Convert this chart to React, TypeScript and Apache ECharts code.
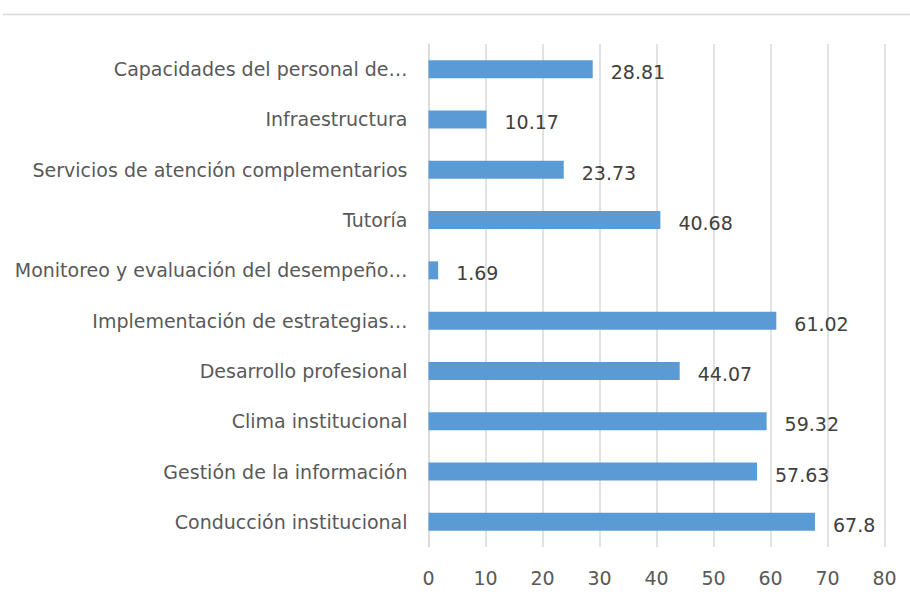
import React, { useEffect, useRef } from "react";
import * as echarts from "echarts";

const categories = [
  "Conducción institucional",
  "Gestión de la información",
  "Clima institucional",
  "Desarrollo profesional",
  "Implementación de estrategias…",
  "Monitoreo y evaluación del desempeño…",
  "Tutoría",
  "Servicios de atención complementarios",
  "Infraestructura",
  "Capacidades del personal de…",
];
const values = [67.8, 57.63, 59.32, 44.07, 61.02, 1.69, 40.68, 23.73, 10.17, 28.81];
const xTicks = { min: 0, max: 80, interval: 10 };

export default function App() {
  const ref = useRef<HTMLDivElement>(null);
  useEffect(() => {
    if (!ref.current) return;
    const chart = echarts.init(ref.current, undefined, { renderer: "svg" });
    const font = "'DejaVu Sans', sans-serif";
    chart.setOption({
      animation: false,
      backgroundColor: "#ffffff",
      graphic: [
        {
          type: "line",
          shape: { x1: 3, y1: 14.5, x2: 910, y2: 14.5 },
          style: { stroke: "#d9d9d9", lineWidth: 1.5 },
        },
      ],
      grid: { left: 428.5, right: 25.5, top: 44, bottom: 54 },
      xAxis: {
        type: "value",
        min: xTicks.min,
        max: xTicks.max,
        interval: xTicks.interval,
        axisLine: { show: false },
        axisTick: { show: false },
        splitLine: { show: true, lineStyle: { color: "#d9d9d9", width: 1.5 } },
        axisLabel: { color: "#595959", fontSize: 19, fontFamily: font, margin: 21 },
      },
      yAxis: {
        type: "category",
        data: categories,
        axisLine: { show: true, lineStyle: { color: "#d9d9d9", width: 1.5 } },
        axisTick: { show: false },
        axisLabel: { color: "#595959", fontSize: 19, fontFamily: font, margin: 21 },
      },
      series: [
        {
          type: "bar",
          data: values,
          barWidth: 18,
          itemStyle: { color: "#5b9bd5" },
          label: {
            show: true,
            position: "right",
            distance: 18,
            color: "#404040",
            fontSize: 19,
            fontFamily: font,
            offset: [0, 3],
          },
        },
      ],
    });
    return () => chart.dispose();
  }, []);
  return <div ref={ref} style={{ width: 910, height: 601, position: "absolute", left: 0, top: 0 }} />;
}
